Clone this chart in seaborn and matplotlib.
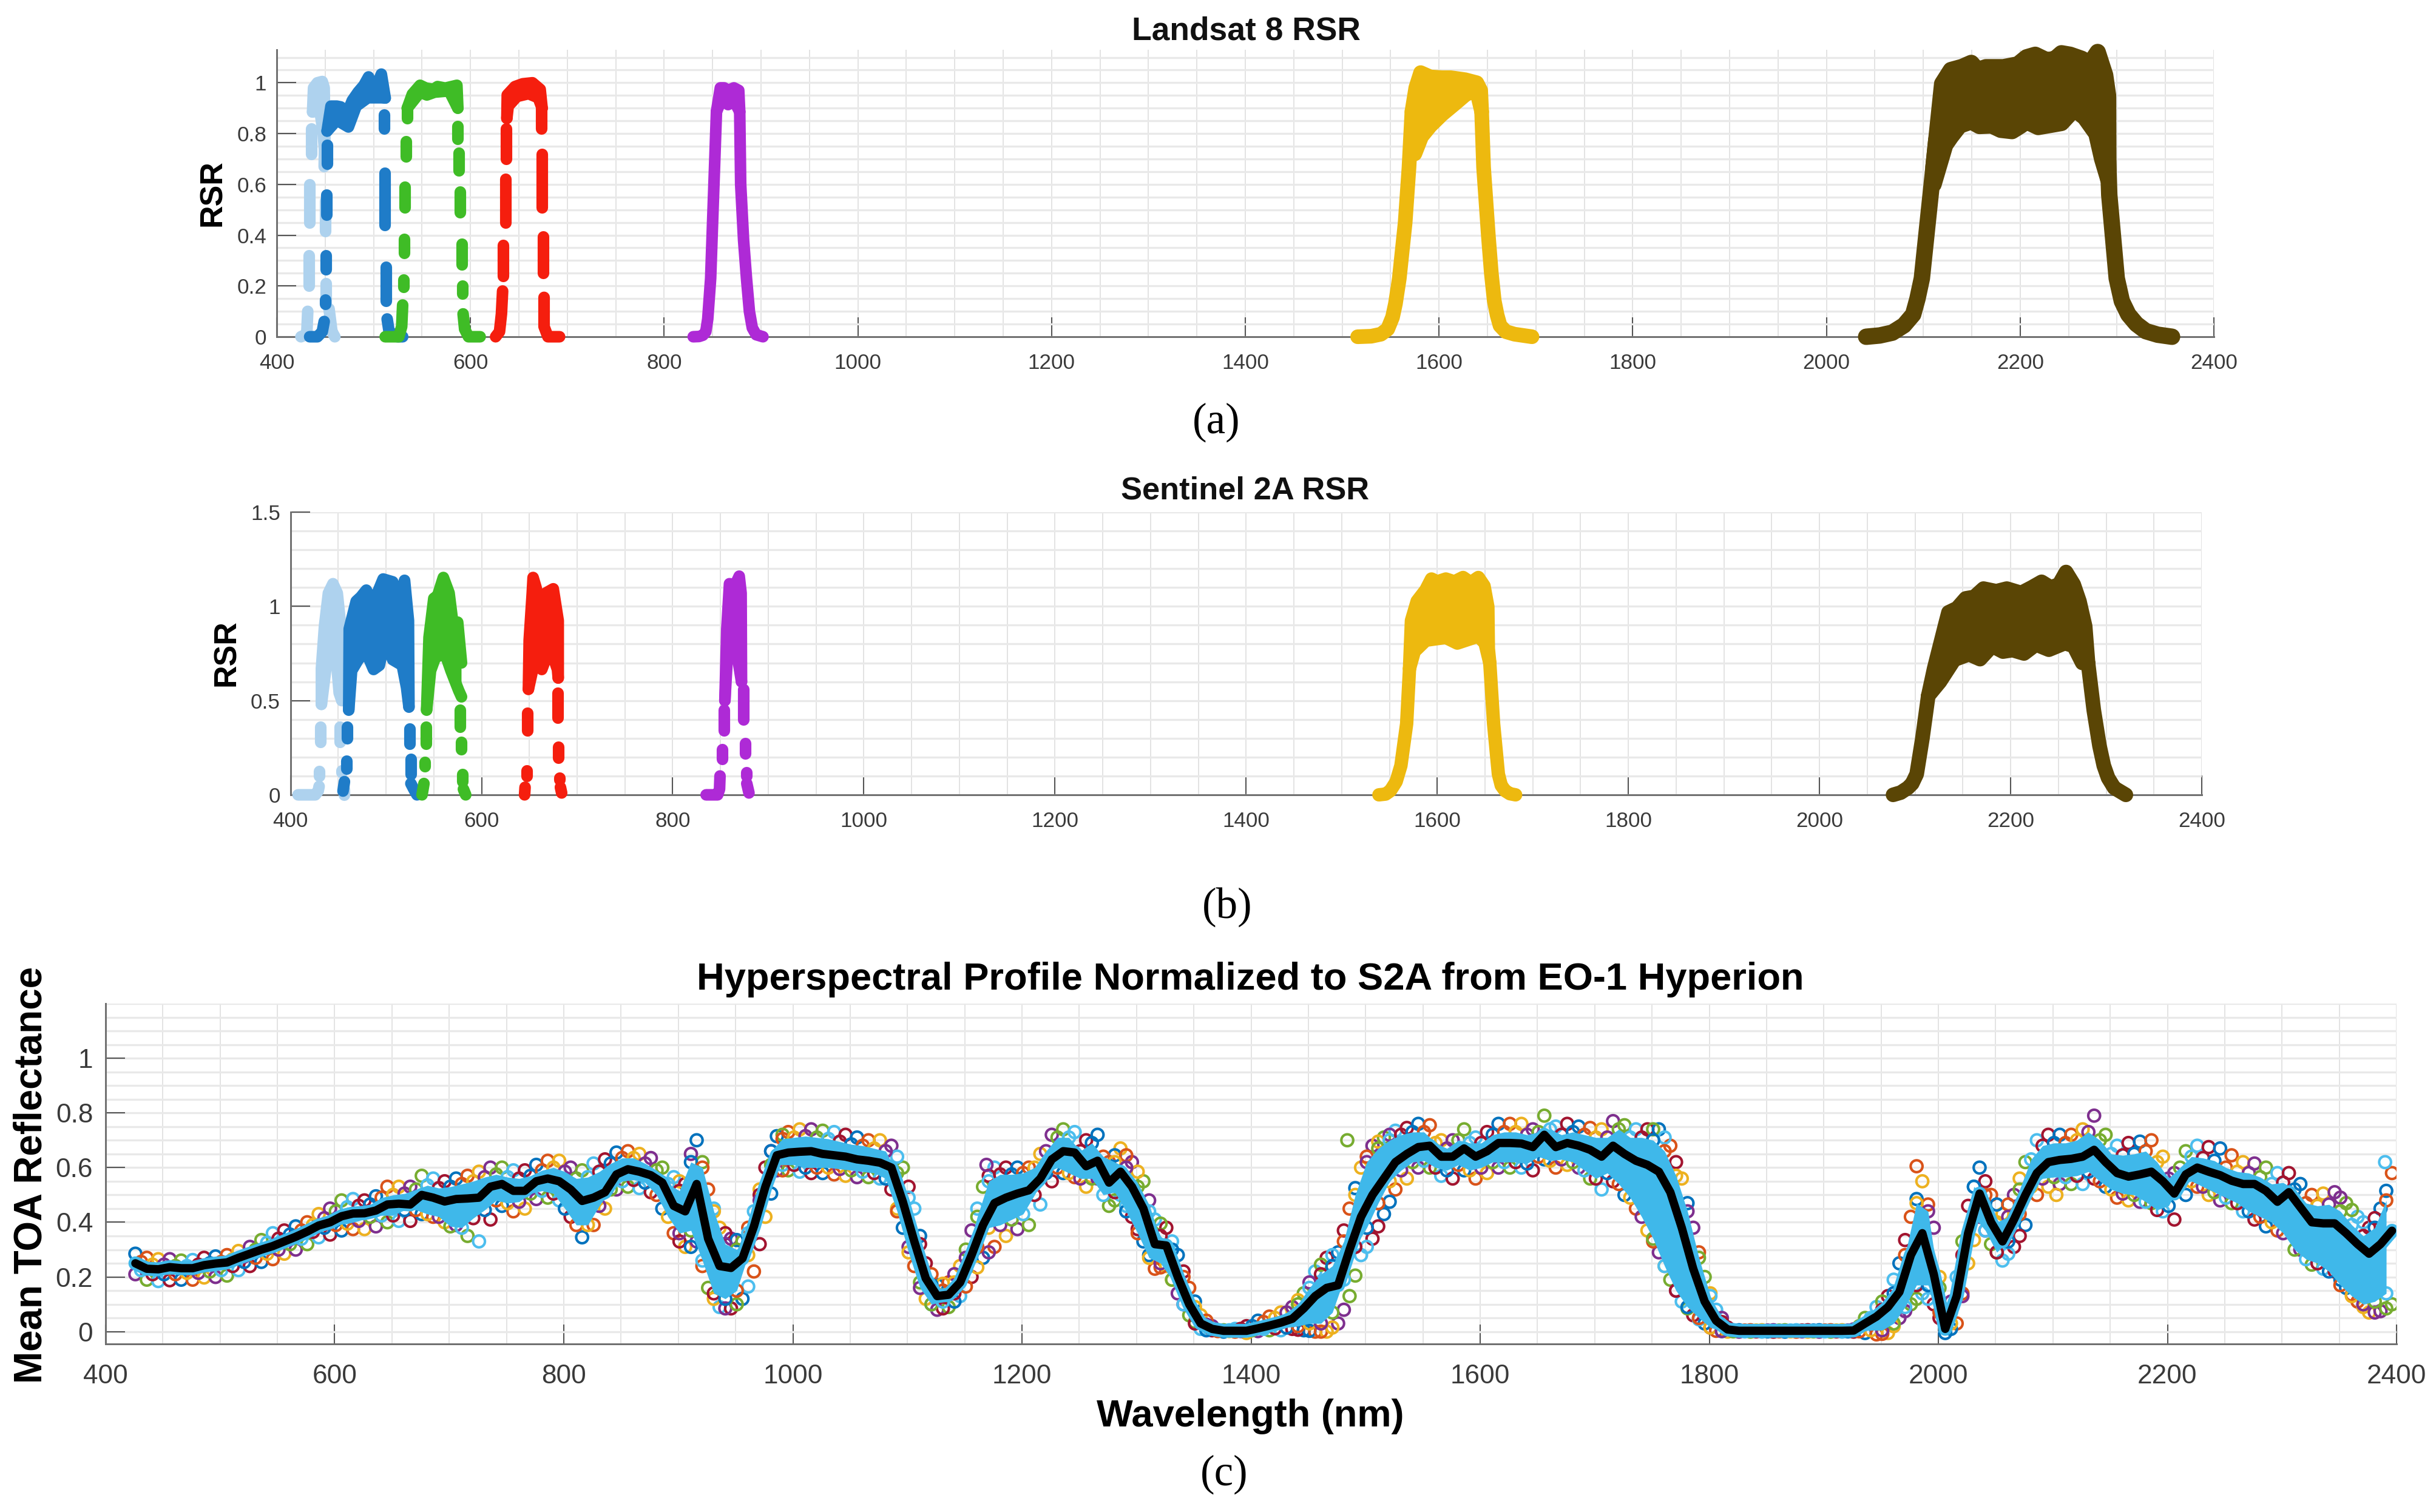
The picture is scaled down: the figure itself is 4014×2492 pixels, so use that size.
import numpy as np
import pandas as pd
import seaborn as sns
import matplotlib.pyplot as plt

W, H = 4014, 2492
nan = float("nan")

# --- panel a, Landsat 8: top of each band (upper and lower path) and its edges
a_coast_ux = [437, 438, 442, 447, 449, 450]
a_coast_uy = [.885, .98, 1.0, 1.005, .98, .70]
a_coast_lx = [437, 440, 445, 448, 450]
a_coast_ly = [.885, .89, .88, .80, .70]
a_coast_ex = [425, 431, 432, nan, 433, 433, nan, 434, 434, nan, 435.6, 435.6, nan, 449, 449.5, nan, 450, 450, nan, 451, 451, nan, 454, 457, 460]
a_coast_ey = [0, .01, .10, nan, .20, .32, nan, .45, .60, nan, .72, .82, nan, .67, .78, nan, .416, .536, nan, .13, .21, nan, .11, .02, 0]

a_blue_ux = [452, 456, 462, 466, 470, 474, 478, 484, 490, 494.8, 500, 504, 508, 512]
a_blue_uy = [.81, .908, .908, .905, .892, .892, .93, .963, .99, 1.023, .974, .996, 1.034, .94]
a_blue_lx = [452, 462, 474, 482, 494, 508, 512]
a_blue_ly = [.81, .853, .826, .908, .941, .941, .94]
a_blue_ex = [434, 442, 447, 449, nan, 450, 450, nan, 451, 451, nan, 451.5, 451.5, nan, 452, 452, nan, 510.8, 510.8, nan, 511.6, 511.6, nan, 512.8, 512.8, nan, 514, 516, 525, 530]
a_blue_ey = [0, 0, .02, .06, nan, .13, .145, nan, .265, .32, nan, .48, .56, nan, .68, .755, nan, .82, .875, nan, .44, .645, nan, .14, .275, nan, .07, .02, 0, 0]

a_green_ux = [534.8, 540, 548, 554, 562, 566, 574, 586, 587]
a_green_uy = [.90, .955, .99, .979, .974, .985, .979, .99, .90]
a_green_lx = [534.8, 548, 555, 563, 578, 587]
a_green_ly = [.90, .963, .952, .963, .968, .90]
a_green_ex = [512, 526, 529, 530, nan, 530.8, 530.8, nan, 531.5, 531.5, nan, 532.5, 532.5, nan, 533.5, 533.5, nan, 534.5, 534.5, nan, 587, 587, nan, 588, 588, nan, 589, 589, nan, 590.8, 590.8, nan, 591.6, 591.6, nan, 592.4, 594, 598, 610]
a_green_ey = [0, 0, .04, .125, nan, .195, .225, nan, .33, .385, nan, .51, .59, nan, .71, .77, nan, .86, .90, nan, .78, .83, nan, .655, .725, nan, .49, .57, nan, .285, .365, nan, .17, .20, nan, .09, .03, 0, 0]

a_red_ux = [637.6, 638, 646, 654, 664, 672, 674]
a_red_uy = [.86, .952, .985, .996, 1.0, .974, .90]
a_red_lx = [637.6, 639, 648, 660, 670, 674]
a_red_ly = [.86, .908, .946, .957, .941, .90]
a_red_ex = [626, 630, 632, 633.2, nan, 634, 634, nan, 636, 636, nan, 637, 637, nan, 673, 673, nan, 674, 674, nan, 675, 675, nan, 676, 676, 680, 692]
a_red_ey = [0, .02, .09, .18, nan, .24, .36, nan, .45, .62, nan, .70, .82, nan, .82, .90, nan, .51, .72, nan, .25, .395, nan, .155, .04, 0, 0]

a_purple_ux = [854, 858, 862, 866, 872, 877, 878]
a_purple_uy = [.886, .98, .98, .97, .98, .97, .886]
a_purple_lx = [854, 860, 866, 872, 878]
a_purple_ly = [.886, .94, .914, .93, .886]
a_purple_ex = [830, 836, 840, 843, 845, 848, 850, 852, 854, nan, 878, 879, 882, 885, 888, 891, 895, 902]
a_purple_ey = [0, .001, .006, .02, .07, .23, .45, .667, .886, nan, .886, .60, .38, .23, .10, .035, .008, 0]

a_yellow_ux = [1572, 1576, 1581, 1591, 1603, 1612, 1627, 1639, 1643, 1644]
a_yellow_uy = [.886, .98, 1.04, 1.023, 1.02, 1.02, 1.012, 1.0, .97, .886]
a_yellow_lx = [1575, 1582, 1591, 1603, 1615, 1627, 1635, 1640, 1644]
a_yellow_ly = [.72, .788, .83, .875, .913, .952, .968, .95, .886]
a_yellow_ex = [1516, 1530, 1540, 1547, 1552, 1555, 1559, 1565, 1569, 1572, nan, 1644, 1646, 1651, 1654, 1657, 1660, 1663, 1669, 1678, 1696]
a_yellow_ey = [0, .002, .01, .03, .077, .13, .23, .448, .667, .886, nan, .886, .667, .394, .25, .142, .085, .044, .02, .01, 0]

a_brown_ux = [2110.5, 2113.5, 2119.5, 2128.5, 2140, 2149.5, 2156, 2164.6, 2182.6, 2197.6, 2206.6, 2215.6, 2227.6, 2236, 2242.6, 2251.6, 2263.6, 2272, 2280, 2287.7, 2290.7, 2291]
a_brown_uy = [.667, .777, .996, 1.05, 1.062, 1.078, 1.05, 1.061, 1.061, 1.072, 1.10, 1.11, 1.088, 1.094, 1.116, 1.11, 1.094, 1.075, 1.121, 1.03, .95, .62]
a_brown_lx = [2110.5, 2122.5, 2128.5, 2137.5, 2149.5, 2158, 2170.6, 2180, 2191.6, 2200, 2206.6, 2218.6, 2242.6, 2255.9, 2266.7, 2278.7, 2284.7, 2291]
a_brown_ly = [.60, .755, .788, .832, .848, .83, .832, .815, .81, .83, .848, .826, .842, .897, .864, .80, .70, .62]
a_brown_ex = [2041, 2055, 2068, 2080, 2089.5, 2094, 2098.5, 2104.5, 2110.5, 2113.5, nan, 2290, 2292, 2299.7, 2305, 2311.7, 2320, 2329.7, 2342, 2356.8]
a_brown_ey = [0, .005, .016, .045, .0875, .15, .23, .449, .667, .777, nan, .777, .558, .23, .14, .0875, .05, .022, .008, 0]

# --- panel b, Sentinel 2A
b_coast_ux = [432.4, 432.4, 435.6, 439.7, 444.5, 449, 452.6, 453.8, 453.8]
b_coast_uy = [.48, .67, .894, 1.07, 1.12, 1.07, .894, .67, .50]
b_coast_lx = [432.4, 438.5, 442.5, 446.6, 451, 453.8]
b_coast_ly = [.48, .73, .835, .805, .54, .50]
b_coast_ex = [408, 426, 429, 430, nan, 430, 430, nan, 431.6, 431.6, nan, 451.8, 451.8, nan, 453.4, 453.4, nan, 456, 456]
b_coast_ey = [0, 0, .02, .045, nan, .10, .125, nan, .28, .36, nan, .28, .36, nan, .12, .13, nan, 0, .03]

b_blue_ux = [461, 461.5, 468.8, 473.7, 479.4, 485, 491, 497, 507, 513, 519.4, 523.5, 524]
b_blue_uy = [.45, .88, 1.027, 1.05, 1.086, 1.027, 1.071, 1.145, 1.13, .997, 1.138, .924, .466]
b_blue_lx = [461, 464, 470.9, 478.9, 487, 493, 499, 507, 517, 521.5, 524]
b_blue_ly = [.45, .658, .717, .761, .665, .687, .828, .717, .687, .569, .466]
b_blue_ex = [455, 456.5, nan, 458.7, 458.7, nan, 459.5, 459.5, nan, 524.7, 524.7, nan, 526, 526, nan, 526, 529.6, 532.4]
b_blue_ey = [.02, .07, nan, .14, .18, nan, .30, .36, nan, .27, .35, nan, .11, .19, nan, .06, .025, 0]

b_green_ux = [542.5, 545, 550, 554, 560, 566, 570, 575, 579]
b_green_uy = [.45, .835, 1.042, 1.057, 1.153, 1.071, .909, .916, .70]
b_green_lx = [542.5, 546.6, 551.8, 562, 568, 576, 579]
b_green_ly = [.45, .658, .731, .746, .658, .554, .52]
b_green_ex = [537.7, 539.7, nan, 540.5, 540.5, nan, 541.7, 541.7, nan, 577.3, 577.3, nan, 579, 579, nan, 580, 580, nan, 581, 583.4]
b_green_ey = [0, .06, nan, .15, .175, nan, .27, .36, nan, .36, .45, nan, .24, .28, nan, .07, .11, nan, .03, 0]

b_red_ux = [649, 649.8, 653, 653.9, 657, 661, 667, 675, 680.2, 680.2]
b_red_uy = [.56, .82, 1.07, 1.153, 1.10, .997, 1.07, 1.093, .924, .62]
b_red_lx = [649, 657, 663, 669, 675, 679.4, 680.2]
b_red_ly = [.56, .746, .665, .746, .731, .665, .62]
b_red_ex = [645, 645.5, nan, 647, 647, nan, 648.2, 648.2, nan, 679.5, 679.5, nan, 680.6, 680.6, nan, 681.4, 681.4, nan, 682.5, 683.8]
b_red_ey = [0, .04, nan, .10, .13, nan, .34, .435, nan, .41, .54, nan, .195, .255, nan, .08, .09, nan, .04, .01]

b_purple_ux = [854.6, 856.6, 859.4, 865.5, 869.6, 871.6, 872]
b_purple_uy = [.50, .88, 1.12, 1.115, 1.16, 1.07, .60]
b_purple_lx = [854.6, 858.2, 865.5, 872]
b_purple_ly = [.50, .82, .805, .60]
b_purple_ex = [835, 847, 849, 849.5, nan, 852, 852, nan, 853.4, 853.4, nan, 874, 874, nan, 875.7, 875.7, nan, 877, 877, nan, 877.5, 879.8]
b_purple_ey = [0, 0, .03, .10, nan, .19, .24, nan, .34, .45, nan, .40, .56, nan, .22, .275, nan, .10, .12, nan, .06, .01]

b_yellow_ux = [1571, 1573, 1579, 1588, 1594, 1600, 1609, 1618, 1627, 1635, 1643, 1649, 1653, 1653.5, 1655]
b_yellow_uy = [.67, .924, 1.027, 1.086, 1.145, 1.13, 1.145, 1.13, 1.153, 1.125, 1.153, 1.108, .997, .776, .70]
b_yellow_lx = [1571, 1576, 1588, 1609, 1621, 1643, 1650, 1655]
b_yellow_ly = [.67, .761, .82, .835, .805, .842, .805, .70]
b_yellow_ex = [1539, 1546, 1551, 1557, 1562, 1568, 1571, nan, 1655, 1659, 1664, 1667, 1671, 1676, 1682]
b_yellow_ey = [0, .004, .022, .07, .155, .377, .67, nan, .70, .377, .11, .05, .022, .006, 0]

b_brown_ux = [2113.8, 2120, 2126, 2132, 2135, 2144, 2153, 2162, 2171.6, 2185, 2196, 2211, 2222, 2232.4, 2242, 2250.6, 2258, 2266, 2272, 2278, 2281]
b_brown_uy = [.525, .67, .79, .91, .968, .99, 1.042, 1.05, 1.094, 1.08, 1.094, 1.071, 1.10, 1.13, 1.10, 1.116, 1.182, 1.116, 1.027, .894, .70]
b_brown_lx = [2113.8, 2126, 2141, 2156.4, 2168, 2180.7, 2192, 2202, 2214, 2226.5, 2240, 2256.8, 2266, 2275, 2281]
b_brown_ly = [.525, .60, .717, .746, .72, .79, .76, .768, .75, .798, .77, .805, .79, .70, .70]
b_brown_ex = [2077, 2085, 2092.5, 2097, 2101.7, 2107.7, 2113.8, nan, 2281, 2287, 2293, 2297.5, 2302, 2308.4, 2314, 2320.6]
b_brown_ey = [0, .012, .037, .06, .11, .30, .525, nan, .70, .45, .26, .155, .09, .037, .02, 0]

# --- panel c, Hyperion bands every 10 nm: mean and outer spread
c_wl = list(range(426, 2397, 10))
c_mean = [
    .25, .23, .228, .236, .232, .232, .243, .249, .253, .27,
    .285, .30, .313, .33, .347, .366, .388, .40, .422, .432,
    .433, .443, .465, .468, .465, .50, .49, .476, .485, .487,
    .49, .53, .54, .515, .515, .55, .56, .55, .52, .478,
    .49, .51, .575, .594, .585, .572, .545, .46, .44, .54,
    .34, .24, .233, .268, .385, .53, .645, .655, .658, .66,
    .65, .645, .64, .63, .625, .618, .60, .475, .33, .195,
    .13, .135, .18, .28, .39, .47, .49, .505, .517, .56,
    .63, .66, .655, .605, .625, .545, .585, .53, .45, .32,
    .315, .2, .10, .03, .01, .003, .003, .003, .012, .022,
    .033, .047, .085, .13, .16, .17, .30, .42, .50, .56,
    .62, .65, .675, .68, .64, .64, .67, .64, .66, .69,
    .69, .688, .675, .72, .675, .69, .68, .665, .64, .68,
    .65, .625, .61, .585, .51, .38, .23, .11, .04, .008,
    .003, .003, .003, .003, .003, .003, .003, .003, .003, .003,
    .004, .03, .055, .09, .145, .28, .36, .21, .01, .13,
    .36, .505, .40, .33, .41, .50, .58, .62, .628, .632,
    .64, .665, .62, .58, .567, .575, .585, .55, .505, .575,
    .60, .585, .572, .552, .54, .54, .515, .475, .51, .455,
    .40, .396, .396, .36, .32, .285, .32, .369]
c_high = [
    .285, .27, .265, .265, .26, .262, .27, .275, .28, .295,
    .31, .335, .36, .37, .385, .40, .43, .45, .48, .485,
    .48, .495, .53, .53, .53, .57, .56, .55, .56, .57,
    .585, .60, .60, .59, .59, .61, .625, .625, .60, .59,
    .615, .63, .655, .66, .65, .635, .60, .565, .54, .70,
    .52, .38, .34, .33, .44, .60, .715, .73, .74, .74,
    .735, .73, .72, .71, .70, .70, .68, .60, .45, .25,
    .17, .18, .24, .37, .53, .60, .60, .60, .60, .65,
    .72, .74, .73, .70, .72, .62, .67, .62, .55, .41,
    .38, .28, .16, .06, .02, .005, .01, .02, .04, .055,
    .07, .09, .14, .22, .27, .29, .45, .60, .68, .71,
    .735, .745, .76, .755, .70, .70, .74, .71, .73, .76,
    .76, .76, .74, .79, .75, .76, .75, .745, .74, .77,
    .755, .74, .74, .74, .68, .56, .38, .20, .08, .015,
    .005, .005, .005, .005, .005, .005, .005, .005, .005, .005,
    .008, .05, .09, .13, .25, .42, .55, .38, .02, .20,
    .46, .60, .50, .43, .50, .62, .70, .72, .72, .72,
    .74, .79, .72, .68, .69, .695, .70, .64, .58, .66,
    .68, .675, .67, .645, .62, .615, .60, .58, .58, .54,
    .50, .505, .51, .47, .42, .38, .45, .58]
c_low = [
    .21, .19, .185, .188, .19, .19, .198, .20, .205, .225,
    .24, .255, .265, .285, .30, .32, .345, .355, .37, .375,
    .375, .385, .40, .405, .405, .43, .42, .40, .39, .35,
    .33, .41, .46, .44, .45, .485, .49, .48, .42, .345,
    .39, .45, .52, .53, .525, .51, .45, .36, .31, .33,
    .16, .09, .085, .12, .22, .42, .59, .59, .585, .58,
    .58, .575, .57, .565, .565, .56, .52, .38, .24, .12,
    .08, .09, .13, .20, .27, .31, .35, .375, .39, .465,
    .55, .58, .565, .53, .56, .46, .50, .42, .33, .23,
    .24, .14, .06, .01, .005, 0, 0, -.005, .002, .005,
    .005, .01, .005, 0, 0, .03, .13, .28, .34, .43,
    .52, .56, .60, .60, .57, .56, .59, .56, .58, .60,
    .60, .60, .59, .63, .60, .61, .60, .56, .52, .55,
    .50, .45, .37, .29, .19, .11, .06, .03, .003, 0,
    0, 0, 0, 0, 0, 0, 0, 0, 0, 0,
    0, -.005, -.01, -.005, .05, .10, .14, .10, -.005, .03,
    .25, .42, .32, .26, .31, .39, .50, .53, .54, .54,
    .54, .56, .53, .49, .48, .475, .47, .44, .41, .50,
    .53, .50, .48, .47, .44, .41, .385, .37, .38, .30,
    .245, .23, .22, .16, .11, .07, .075, .10]

# inner spread, read between the bands
c_wl_in = list(range(431, 2392, 10))
c_high_in = [
    .255, .245, .245, .24, .24, .245, .25, .255, .265, .275,
    .30, .325, .34, .355, .37, .39, .415, .44, .455, .46,
    .465, .49, .50, .505, .52, .535, .525, .53, .54, .55,
    .565, .575, .565, .56, .57, .59, .60, .585, .56, .565,
    .585, .615, .635, .635, .615, .59, .54, .515, .62, .60,
    .44, .32, .30, .36, .50, .66, .705, .71, .715, .71,
    .705, .695, .685, .68, .67, .66, .58, .49, .32, .17,
    .15, .18, .27, .42, .55, .575, .575, .58, .60, .66,
    .71, .71, .66, .69, .64, .62, .60, .53, .44, .35,
    .30, .20, .09, .025, .005, .005, .01, .02, .035, .05,
    .07, .10, .16, .21, .24, .33, .50, .62, .67, .70,
    .72, .73, .73, .69, .67, .70, .69, .69, .72, .73,
    .73, .72, .73, .74, .72, .73, .72, .71, .71, .74,
    .71, .71, .70, .66, .57, .44, .27, .13, .035, .005,
    .004, .004, .004, .004, .004, .004, .004, .004, .004, .004,
    .02, .05, .08, .14, .28, .47, .44, .16, .07, .28,
    .53, .50, .40, .42, .52, .63, .68, .69, .69, .70,
    .73, .70, .65, .645, .65, .66, .62, .56, .60, .64,
    .635, .625, .60, .585, .58, .565, .54, .545, .52, .47,
    .46, .465, .44, .39, .35, .38, .48]
c_low_in = [
    .225, .21, .21, .21, .215, .215, .22, .225, .24, .255,
    .27, .285, .30, .32, .34, .365, .38, .39, .395, .405,
    .42, .425, .425, .445, .445, .43, .42, .385, .38, .415,
    .445, .48, .47, .475, .505, .515, .505, .45, .39, .39,
    .46, .52, .55, .555, .545, .50, .42, .36, .37, .26,
    .14, .12, .15, .28, .48, .61, .61, .61, .60, .60,
    .60, .595, .59, .585, .58, .56, .44, .29, .16, .10,
    .11, .14, .23, .31, .38, .39, .41, .43, .50, .58,
    .60, .58, .56, .56, .50, .51, .44, .36, .27, .25,
    .19, .10, .03, .005, .002, .002, .002, .005, .01, .012,
    .015, .02, .03, .03, .07, .19, .31, .38, .47, .55,
    .59, .62, .625, .60, .59, .61, .59, .60, .62, .62,
    .62, .615, .64, .625, .63, .62, .59, .56, .58, .54,
    .49, .42, .34, .24, .15, .09, .05, .015, .002, .001,
    .001, .001, .001, .001, .001, .001, .001, .001, .001, .001,
    .001, .005, .005, .03, .09, .17, .17, .07, .03, .13,
    .42, .37, .29, .33, .43, .53, .56, .565, .565, .57,
    .585, .55, .52, .505, .50, .475, .445, .46, .54, .55,
    .53, .51, .49, .47, .44, .42, .40, .36, .30, .265,
    .25, .22, .17, .13, .10, .11, .14]

# extra rings on the steep flanks of the absorption features
c_flank_wl = [901, 911, 921, 931, 941, 951, 961, 971, 981, 991,
              1091, 1101, 1111, 1121, 1131, 1141, 1151, 1161, 1171,
              1281, 1291, 1301, 1311, 1321, 1331, 1341, 1351, 1361,
              1441, 1451, 1461, 1471, 1481, 1491, 1501, 1511, 1521,
              1751, 1761, 1771, 1781, 1791, 1801, 1811,
              1951, 1961, 1971, 1981, 1991, 2001, 2011, 2021, 2031, 2041, 2051, 2061, 2071,
              2351, 2361, 2371, 2381, 2391]
c_flank_high = [.55, .65, .62, .45, .36, .335, .38, .52, .66, .72,
                .64, .53, .35, .21, .175, .21, .30, .45, .57,
                .645, .645, .585, .48, .395, .33, .22, .11, .04,
                .115, .18, .245, .28, .37, .525, .64, .695, .72,
                .74, .71, .62, .47, .29, .14, .05,
                .11, .19, .335, .485, .465, .2, .11, .33, .53, .55, .465, .465, .56,
                .49, .445, .40, .415, .515]
c_flank_low = [.33, .31, .24, .12, .085, .10, .165, .32, .505, .59,
               .45, .31, .18, .10, .085, .11, .165, .235, .29,
               .48, .46, .375, .28, .235, .19, .10, .035, .007,
               .007, .003, 0, .015, .08, .205, .31, .385, .475,
               .33, .24, .15, .085, .045, .015, .002,
               -.008, .02, .075, .12, .12, .05, .01, .14, .335, .37, .29, .285, .35,
               .19, .135, .09, .07, .085]

# rings that stand clear of the envelope
c_out_wl = [1981, 2103, 1169, 1484, 2390]
c_out_val = [.605, .50, .61, .70, .62]

x_major = [400, 600, 800, 1000, 1200, 1400, 1600, 1800, 2000, 2200, 2400]
x_labels = ["400", "600", "800", "1000", "1200", "1400", "1600", "1800", "2000", "2200", "2400"]
a_yticks = [0, .2, .4, .6, .8, 1]
a_ylabels = ["0", "0.2", "0.4", "0.6", "0.8", "1"]
b_yticks = [0, .5, 1, 1.5]
b_ylabels = ["0", "0.5", "1", "1.5"]

COAST, BLUE, GREEN, RED = "#AED2EE", "#1F7CC8", "#3FBC26", "#F51E0E"
PURPLE, YELLOW, BROWN, SKY = "#AE2AD6", "#EDB90F", "#5A4505", "#3FB8EA"
RINGS = ["#0072BD", "#D95319", "#EDB120", "#7E2F8E", "#77AC30", "#4DBEEE", "#A2142F"]
STROKE = 4.6

sns.set_theme(style="white")
plt.rcParams["font.family"] = ["Liberation Sans", "DejaVu Sans"]
plt.rcParams["axes.unicode_minus"] = False

fig = plt.figure(figsize=(W / 300, H / 300), dpi=300)


def make_axes(left, right, top, bottom, ylim, yticks, ylabels, ygrid, tick_size, xpad, ypad):
    ax = fig.add_axes([left / W, 1 - bottom / H, (right - left) / W, (bottom - top) / H])
    ax.set_xticks(x_major, x_labels)
    ax.set_yticks(yticks, ylabels)
    ax.set_xticks(np.arange(400, 2401, 50), minor=True)
    ax.set_yticks(np.arange(0, ylim[1] + 1e-6, ygrid), minor=True)
    ax.tick_params(axis="x", which="major", direction="in", length=7.7, width=.5, color="#555555",
                   labelsize=tick_size, labelcolor="#3a3a3a", pad=xpad, bottom=True)
    ax.tick_params(axis="y", which="major", direction="in", length=7.7, width=.5, color="#555555",
                   labelsize=tick_size, labelcolor="#3a3a3a", pad=ypad, left=True)
    ax.tick_params(which="minor", length=0)
    ax.grid(axis="x", which="both", color="#dedede", lw=.4)
    ax.grid(axis="y", which="both", color="#e9e9e9", lw=.8)
    ax.set_axisbelow(True)
    for side in ("top", "right"):
        ax.spines[side].set_visible(False)
    for side in ("left", "bottom"):
        ax.spines[side].set_color("#6e6e6e")
        ax.spines[side].set_linewidth(.7)
    return ax


def finish_axes(ax, ylim):
    ax.set_xlim(400, 2400)
    ax.set_ylim(*ylim)
    ax.set_xlabel("")
    ax.set_ylabel("")


def draw_band(ax, ux, uy, lx, ly, ex, ey, colour, stroke=STROKE):
    ax.fill(list(ux) + list(lx)[::-1], list(uy) + list(ly)[::-1], color=colour, lw=0, clip_on=False, zorder=3)
    style = dict(estimator=None, sort=False, color=colour, lw=stroke, solid_capstyle="round",
                 solid_joinstyle="round", clip_on=False, zorder=3, ax=ax)
    sns.lineplot(x=ux, y=uy, **style)
    sns.lineplot(x=lx, y=ly, **style)
    edges = pd.DataFrame({"x": ex, "y": ey})
    edges["seg"] = edges["x"].isna().cumsum()
    edges = edges.dropna()
    sns.lineplot(data=edges, x="x", y="y", units="seg", **style)


def draw_rings(ax, wl, vals, offset):
    rows = pd.DataFrame({"wl": wl, "val": vals})
    rows["ring"] = [str((i + offset) % 7) for i in range(len(rows))]
    sns.scatterplot(data=rows, x="wl", y="val", hue="ring", palette={str(i): c for i, c in enumerate(RINGS)},
                    s=22, linewidth=1.0, legend=False, ax=ax, zorder=3)
    points = ax.collections[-1]
    points.set_edgecolors(points.get_facecolors())
    points.set_facecolors("none")


ax_a = make_axes(456, 3648, 82, 555, (0, 1.13), a_yticks, a_ylabels, .05, 8.4, 6.5, 4)
draw_band(ax_a, a_coast_ux, a_coast_uy, a_coast_lx, a_coast_ly, a_coast_ex, a_coast_ey, COAST)
draw_band(ax_a, a_blue_ux, a_blue_uy, a_blue_lx, a_blue_ly, a_blue_ex, a_blue_ey, BLUE)
draw_band(ax_a, a_green_ux, a_green_uy, a_green_lx, a_green_ly, a_green_ex, a_green_ey, GREEN)
draw_band(ax_a, a_red_ux, a_red_uy, a_red_lx, a_red_ly, a_red_ex, a_red_ey, RED)
draw_band(ax_a, a_purple_ux, a_purple_uy, a_purple_lx, a_purple_ly, a_purple_ex, a_purple_ey, PURPLE)
draw_band(ax_a, a_yellow_ux, a_yellow_uy, a_yellow_lx, a_yellow_ly, a_yellow_ex, a_yellow_ey, YELLOW, 5.8)
draw_band(ax_a, a_brown_ux, a_brown_uy, a_brown_lx, a_brown_ly, a_brown_ex, a_brown_ey, BROWN, 6.5)
finish_axes(ax_a, (0, 1.13))

ax_b = make_axes(478.6, 3628, 844, 1310, (0, 1.5), b_yticks, b_ylabels, .1, 8.4, 6.5, 4)
draw_band(ax_b, b_coast_ux, b_coast_uy, b_coast_lx, b_coast_ly, b_coast_ex, b_coast_ey, COAST)
draw_band(ax_b, b_blue_ux, b_blue_uy, b_blue_lx, b_blue_ly, b_blue_ex, b_blue_ey, BLUE)
draw_band(ax_b, b_green_ux, b_green_uy, b_green_lx, b_green_ly, b_green_ex, b_green_ey, GREEN)
draw_band(ax_b, b_red_ux, b_red_uy, b_red_lx, b_red_ly, b_red_ex, b_red_ey, RED)
draw_band(ax_b, b_purple_ux, b_purple_uy, b_purple_lx, b_purple_ly, b_purple_ex, b_purple_ey, PURPLE)
draw_band(ax_b, b_yellow_ux, b_yellow_uy, b_yellow_lx, b_yellow_ly, b_yellow_ex, b_yellow_ey, YELLOW, 5.3)
draw_band(ax_b, b_brown_ux, b_brown_uy, b_brown_lx, b_brown_ly, b_brown_ex, b_brown_ey, BROWN, 5.8)
finish_axes(ax_b, (0, 1.5))

ax_c = make_axes(174, 3949, 1654, 2215, (-.045, 1.2), a_yticks, a_ylabels, .05, 10.6, 8, 5)
draw_rings(ax_c, c_wl, c_high, 0)
draw_rings(ax_c, c_wl, c_low, 3)
draw_rings(ax_c, c_flank_wl, c_flank_high, 2)
draw_rings(ax_c, c_flank_wl, c_flank_low, 6)
draw_rings(ax_c, c_wl_in, c_high_in, 1)
draw_rings(ax_c, c_wl_in, c_low_in, 5)
draw_rings(ax_c, c_out_wl, c_out_val, 1)
ax_c.fill_between(c_wl_in, c_low_in, c_high_in, color=SKY, lw=0, zorder=3.5)
sns.lineplot(x=c_wl, y=c_mean, estimator=None, sort=False, color=SKY, lw=5.5,
             solid_joinstyle="round", ax=ax_c, zorder=3.6)
sns.lineplot(x=c_wl, y=c_mean, estimator=None, sort=False, color="black", lw=3.3,
             solid_joinstyle="round", ax=ax_c, zorder=4)
finish_axes(ax_c, (-.045, 1.2))


def px_text(x, y, text, size, **kw):
    fig.text(x / W, 1 - y / H, text, fontsize=size, ha="center", va="center", **kw)


px_text(2053, 51, "Landsat 8 RSR", 12.8, fontweight="bold", color="#111111")
px_text(2052, 809, "Sentinel 2A RSR", 12.6, fontweight="bold", color="#111111")
px_text(2060, 1615, "Hyperspectral Profile Normalized to S2A from EO-1 Hyperion", 15.2, fontweight="bold", color="black")
px_text(2060, 2335, "Wavelength (nm)", 15.2, fontweight="bold", color="black")
px_text(350, 318, "RSR", 12.5, fontweight="bold", color="black", rotation=90)
px_text(373, 1076, "RSR", 12.5, fontweight="bold", color="black", rotation=90)
px_text(52, 1937, "Mean TOA Reflectance", 15.3, fontweight="bold", color="black", rotation=90)
for cx, cy, tag in ((2004, 696, "(a)"), (2022, 1495, "(b)"), (2017, 2430, "(c)")):
    px_text(cx, cy, tag, 17, family=["Liberation Serif", "DejaVu Serif"], color="black")

fig.savefig("out.png", dpi=300, facecolor="white")
